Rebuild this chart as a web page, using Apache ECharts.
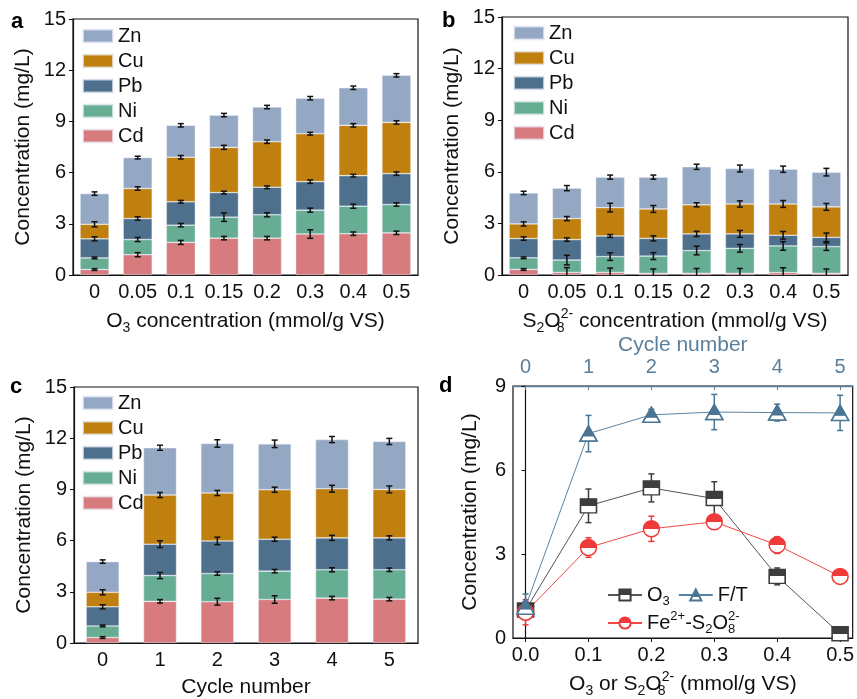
<!DOCTYPE html>
<html>
<head>
<meta charset="utf-8">
<script src="https://cdn.jsdelivr.net/npm/echarts@6/dist/echarts.min.js"></script>
<style>
html, body { margin: 0; padding: 0; background: #fff; }
#main { width: 857px; height: 699px; }
</style>
</head>
<body>
<div id="main"></div>
<script>
const FONT = 'Liberation Sans, Arial, sans-serif';

// panel a: O3 dose
const o3Doses = ['0', '0.05', '0.1', '0.15', '0.2', '0.3', '0.4', '0.5'];
const aCd = [0.32, 1.19, 1.91, 2.16, 2.16, 2.40, 2.42, 2.47];
const aNi = [0.68, 0.89, 1.01, 1.23, 1.37, 1.40, 1.61, 1.66];
const aPb = [1.12, 1.23, 1.37, 1.44, 1.61, 1.67, 1.79, 1.81];
const aCu = [0.85, 1.76, 2.61, 2.65, 2.67, 2.81, 2.95, 3.00];
const aZn = [1.80, 1.81, 1.87, 1.89, 2.03, 2.08, 2.20, 2.76];
const aCdErr = [0.05, 0.12, 0.12, 0.10, 0.10, 0.25, 0.10, 0.10];
const aNiErr = [0.05, 0.12, 0.10, 0.25, 0.12, 0.12, 0.12, 0.10];
const aPbErr = [0.12, 0.10, 0.08, 0.08, 0.08, 0.10, 0.08, 0.10];
const aCuErr = [0.15, 0.10, 0.10, 0.12, 0.10, 0.08, 0.10, 0.10];
const aZnErr = [0.10, 0.08, 0.10, 0.10, 0.10, 0.10, 0.10, 0.10];

// panel b: S2O8 dose
const s2o8Doses = ['0', '0.05', '0.1', '0.15', '0.2', '0.3', '0.4', '0.5'];
const bCd = [0.32, 0.15, 0.15, 0.10, 0.10, 0.10, 0.14, 0.10];
const bNi = [0.68, 0.72, 0.92, 1.00, 1.32, 1.45, 1.55, 1.55];
const bPb = [1.12, 1.19, 1.20, 1.03, 0.97, 0.84, 0.62, 0.54];
const bCu = [0.85, 1.22, 1.65, 1.71, 1.69, 1.74, 1.82, 1.77];
const bZn = [1.80, 1.77, 1.77, 1.85, 2.21, 2.06, 2.02, 2.02];
const bCdErr = [0.05, 0.28, 0.25, 0.25, 0.28, 0.28, 0.28, 0.25];
const bNiErr = [0.05, 0.28, 0.22, 0.20, 0.25, 0.22, 0.25, 0.22];
const bPbErr = [0.10, 0.10, 0.08, 0.15, 0.15, 0.20, 0.22, 0.25];
const bCuErr = [0.12, 0.12, 0.25, 0.20, 0.12, 0.18, 0.20, 0.20];
const bZnErr = [0.10, 0.15, 0.12, 0.12, 0.15, 0.20, 0.18, 0.22];

// panel c: freeze/thaw cycles
const cycles = ['0', '1', '2', '3', '4', '5'];
const cCd = [0.32, 2.44, 2.42, 2.55, 2.63, 2.57];
const cNi = [0.68, 1.51, 1.65, 1.66, 1.66, 1.72];
const cPb = [1.12, 1.84, 1.91, 1.87, 1.87, 1.87];
const cCu = [0.85, 2.88, 2.81, 2.90, 2.88, 2.84];
const cZn = [1.80, 2.77, 2.90, 2.69, 2.88, 2.81];
const cCdErr = [0.05, 0.10, 0.20, 0.22, 0.10, 0.10];
const cNiErr = [0.05, 0.18, 0.10, 0.10, 0.12, 0.10];
const cPbErr = [0.12, 0.20, 0.22, 0.12, 0.15, 0.12];
const cCuErr = [0.15, 0.15, 0.15, 0.15, 0.20, 0.20];
const cZnErr = [0.10, 0.15, 0.22, 0.22, 0.18, 0.18];

// panel d: Cd concentration
const dDose = [0, 0.1, 0.2, 0.3, 0.4, 0.5];
const dCycle = [0, 1, 2, 3, 4, 5];
const o3Cd = [1.00, 4.72, 5.36, 4.98, 2.20, 0.15];
const o3CdErr = [0.30, 0.60, 0.50, 0.60, 0.30, 0.12];
const ftCd = [1.12, 7.30, 7.97, 8.07, 8.05, 8.04];
const ftCdErr = [0.45, 0.65, 0.20, 0.63, 0.30, 0.63];
const feCd = [0.92, 3.23, 3.90, 4.15, 3.32, 2.20];
const feCdErr = [0.45, 0.35, 0.45, 0.15, 0.30, 0.10];

const metalNames = ['Cd', 'Ni', 'Pb', 'Cu', 'Zn'];
const metalColors = ['#d77b7e', '#67ad94', '#4e708c', '#c0800f', '#94a8c4'];
const blueAxis = '#5b7f9b';
const ftColor = '#4a7594';

const chart = echarts.init(document.getElementById('main'));

const nameRich = {
  n: { fontSize: 21, fontFamily: FONT, color: '#111', lineHeight: 28 },
  sub: { fontSize: 14, fontFamily: FONT, color: '#111', lineHeight: 14, verticalAlign: 'bottom' },
  sub8: { fontSize: 14, fontFamily: FONT, color: '#111', lineHeight: 14, verticalAlign: 'bottom', width: 0.01 },
  sup: { fontSize: 14, fontFamily: FONT, color: '#111', lineHeight: 14, verticalAlign: 'top' }
};

function errorSeries(xi, yi, points, color, z) {
  return {
    type: 'custom',
    xAxisIndex: xi,
    yAxisIndex: yi,
    z: z,
    clip: true,
    silent: true,
    data: points,
    renderItem: function (params, api) {
      const x = api.value(0), y = api.value(1), e = api.value(2);
      const hi = api.coord([x, y + e]);
      const lo = api.coord([x, y - e]);
      const w = 3;
      const st = { stroke: color, lineWidth: 1.5 };
      return {
        type: 'group',
        children: [
          { type: 'line', shape: { x1: hi[0], y1: hi[1], x2: lo[0], y2: lo[1] }, style: st },
          { type: 'line', shape: { x1: hi[0] - w, y1: hi[1], x2: hi[0] + w, y2: hi[1] }, style: st },
          { type: 'line', shape: { x1: lo[0] - w, y1: lo[1], x2: lo[0] + w, y2: lo[1] }, style: st }
        ]
      };
    }
  };
}

function stackedPanel(idx, layers, errs, barWidth) {
  const out = [];
  const running = layers[0].map(() => 0);
  layers.forEach((vals, m) => {
    out.push({
      type: 'bar',
      name: metalNames[m],
      stack: 'panel' + idx,
      xAxisIndex: idx,
      yAxisIndex: idx,
      barWidth: barWidth,
      itemStyle: { color: metalColors[m], borderColor: 'rgba(235,240,250,0.7)', borderWidth: 0.6 },
      data: vals
    });
    const pts = vals.map((v, i) => {
      running[i] += v;
      return [i, running[i], errs[m][i]];
    });
    out.push(errorSeries(idx, idx, pts, '#111', 5));
  });
  return out;
}

function barXAxis(idx, cats, name, nameGap) {
  return {
    type: 'category',
    gridIndex: idx,
    data: cats,
    name: name,
    nameLocation: 'middle',
    nameGap: nameGap,
    nameTextStyle: { rich: nameRich, fontSize: 21, fontFamily: FONT, color: '#111' },
    axisLine: { lineStyle: { color: '#111', width: 1.2 } },
    axisTick: { alignWithLabel: true, interval: 0, length: 4, lineStyle: { color: '#111' } },
    axisLabel: { interval: 0, fontSize: 20, fontFamily: FONT, color: '#111', margin: 7 }
  };
}

function concYAxis(idx, max, gap) {
  return {
    type: 'value',
    gridIndex: idx,
    min: 0,
    max: max,
    interval: 3,
    name: 'Concentration (mg/L)',
    nameLocation: 'middle',
    nameGap: gap,
    nameTextStyle: { fontSize: 21, fontFamily: FONT, color: '#111' },
    axisLine: { show: true, lineStyle: { color: '#111', width: 1.2 } },
    axisTick: { show: true, length: 4, lineStyle: { color: '#111' } },
    axisLabel: { fontSize: 20, fontFamily: FONT, color: '#111', margin: 7 },
    splitLine: { show: false }
  };
}

function barLegend(left, top) {
  return {
    data: ['Zn', 'Cu', 'Pb', 'Ni', 'Cd'],
    orient: 'vertical',
    left: left,
    top: top,
    icon: 'rect',
    itemWidth: 30,
    itemHeight: 13,
    itemGap: 5,
    selectedMode: false,
    textStyle: { fontSize: 20, fontFamily: FONT, color: '#111' }
  };
}

function halfFill(color, stop) {
  return new echarts.graphic.LinearGradient(0, 0, 0, 1, [
    { offset: 0, color: color },
    { offset: stop, color: color },
    { offset: stop, color: '#fff' },
    { offset: 1, color: '#fff' }
  ]);
}

const legendRich = {
  n: { fontSize: 20, fontFamily: FONT, color: '#111', lineHeight: 26 },
  sub: { fontSize: 13, fontFamily: FONT, color: '#111', lineHeight: 13, verticalAlign: 'bottom' },
  sub8: { fontSize: 13, fontFamily: FONT, color: '#111', lineHeight: 13, verticalAlign: 'bottom', width: 0.01 },
  sup: { fontSize: 13, fontFamily: FONT, color: '#111', lineHeight: 13, verticalAlign: 'top' }
};
const legendLabels = {
  'O3': '{n|O}{sub|3}',
  'F/T': '{n|F/T}',
  'Fe-S2O8': '{n|Fe}{sup|2+}{n|-S}{sub|2}{n|O}{sub8|8}{sup|2-}'
};

const series = []
  .concat(stackedPanel(0, [aCd, aNi, aPb, aCu, aZn], [aCdErr, aNiErr, aPbErr, aCuErr, aZnErr], 29))
  .concat(stackedPanel(1, [bCd, bNi, bPb, bCu, bZn], [bCdErr, bNiErr, bPbErr, bCuErr, bZnErr], 29))
  .concat(stackedPanel(2, [cCd, cNi, cPb, cCu, cZn], [cCdErr, cNiErr, cPbErr, cCuErr, cZnErr], 33));

series.push(errorSeries(3, 3, dDose.map((x, i) => [x, o3Cd[i], o3CdErr[i]]), '#3d3d3d', 1));
series.push(errorSeries(4, 3, dCycle.map((x, i) => [x, ftCd[i], ftCdErr[i]]), ftColor, 1));
series.push(errorSeries(3, 3, dDose.map((x, i) => [x, feCd[i], feCdErr[i]]), '#f03a3a', 1));

series.push({
  type: 'line', name: 'O3', xAxisIndex: 3, yAxisIndex: 3, z: 3,
  data: dDose.map((x, i) => [x, o3Cd[i]]),
  symbol: 'rect', symbolSize: [16, 14],
  lineStyle: { color: '#555', width: 1 },
  itemStyle: { color: halfFill('#3d3d3d', 0.5), borderColor: '#3d3d3d', borderWidth: 1.5 }
});
series.push({
  type: 'line', name: 'F/T', xAxisIndex: 4, yAxisIndex: 3, z: 3,
  data: dCycle.map((x, i) => [x, ftCd[i]]),
  symbol: 'triangle', symbolSize: [17, 15],
  lineStyle: { color: '#5a84a3', width: 1 },
  itemStyle: { color: halfFill(ftColor, 0.68), borderColor: ftColor, borderWidth: 1.5 }
});
// F/T markers: triangle, upper part filled, lower band white
series.push({
  type: 'custom', xAxisIndex: 4, yAxisIndex: 3, z: 4, silent: true,
  data: dCycle.map((x, i) => [x, ftCd[i]]),
  renderItem: function (params, api) {
    const p = api.coord([api.value(0), api.value(1)]);
    const hw = 8.5, hh = 7.5, k = 0.66;
    const top = [p[0], p[1] - hh];
    const bl = [p[0] - hw, p[1] + hh];
    const br = [p[0] + hw, p[1] + hh];
    const ys = top[1] + 2 * hh * k;
    const sl = [p[0] - hw * k, ys];
    const sr = [p[0] + hw * k, ys];
    return {
      type: 'group',
      children: [
        { type: 'polygon', shape: { points: [top, br, bl] }, style: { fill: '#fff', stroke: ftColor, lineWidth: 1.5 } },
        { type: 'polygon', shape: { points: [top, sr, sl] }, style: { fill: ftColor, stroke: ftColor, lineWidth: 1 } }
      ]
    };
  }
});
series.push({
  type: 'line', name: 'Fe-S2O8', xAxisIndex: 3, yAxisIndex: 3, z: 3,
  data: dDose.map((x, i) => [x, feCd[i]]),
  symbol: 'circle', symbolSize: 16,
  lineStyle: { color: '#f04848', width: 1 },
  itemStyle: { color: halfFill('#f03a3a', 0.5), borderColor: '#f03a3a', borderWidth: 1.5 }
});

const gridBase = { show: true, borderColor: '#111', borderWidth: 1.2, backgroundColor: 'transparent' };

const option = {
  animation: false,
  backgroundColor: '#fff',
  textStyle: { fontFamily: FONT },
  grid: [
    Object.assign({ left: 73, top: 19, width: 345, height: 256 }, gridBase),
    Object.assign({ left: 502, top: 17, width: 346, height: 258 }, gridBase),
    Object.assign({ left: 74, top: 387, width: 344, height: 256 }, gridBase),
    Object.assign({ left: 513, top: 386, width: 341, height: 253 }, gridBase)
  ],
  legend: [
    barLegend(77, 21),
    barLegend(508, 18),
    barLegend(77, 388),
    {
      data: ['O3', 'F/T'],
      left: 602, top: 580,
      itemWidth: 34, itemHeight: 14, itemGap: 8,
      selectedMode: false,
      formatter: n => legendLabels[n],
      textStyle: { fontSize: 20, fontFamily: FONT, color: '#111', rich: legendRich }
    },
    {
      data: ['Fe-S2O8'],
      left: 602, top: 605,
      itemWidth: 34, itemHeight: 14,
      selectedMode: false,
      formatter: n => legendLabels[n],
      textStyle: { fontSize: 20, fontFamily: FONT, color: '#111', rich: legendRich }
    }
  ],
  xAxis: [
    barXAxis(0, o3Doses, '{n|O}{sub|3}{n| concentration (mmol/g VS)}', 32),
    barXAxis(1, s2o8Doses, '{n|S}{sub|2}{n|O}{sub8|8}{sup|2-}{n| concentration (mmol/g VS)}', 32),
    barXAxis(2, cycles, 'Cycle number', 34),
    {
      type: 'value', gridIndex: 3, min: -0.02, max: 0.52,
      name: '{n|O}{sub|3}{n| or S}{sub|2}{n|O}{sub8|8}{sup|2-}{n| (mmol/g VS)}',
      nameLocation: 'middle', nameGap: 32,
      nameTextStyle: { rich: nameRich, fontSize: 21, fontFamily: FONT, color: '#111' },
      axisLine: { lineStyle: { color: '#111', width: 1.2 } },
      axisTick: { show: true, length: 4, customValues: dDose, lineStyle: { color: '#111' } },
      axisLabel: { fontSize: 20, fontFamily: FONT, color: '#111', margin: 7, customValues: dDose,
        formatter: v => v.toFixed(1) },
      splitLine: { show: false }
    },
    {
      type: 'value', gridIndex: 3, position: 'top', min: -0.2, max: 5.2,
      name: 'Cycle number', nameLocation: 'middle', nameGap: 27,
      nameTextStyle: { fontSize: 21, fontFamily: FONT, color: blueAxis },
      axisLine: { lineStyle: { color: blueAxis, width: 1.4 } },
      axisTick: { show: true, inside: true, length: 4, customValues: dCycle, lineStyle: { color: blueAxis } },
      axisLabel: { fontSize: 20, fontFamily: FONT, color: blueAxis, margin: 9, customValues: dCycle },
      splitLine: { show: false }
    }
  ],
  yAxis: [concYAxis(0, 15, 39), concYAxis(1, 15, 39), concYAxis(2, 15, 39), concYAxis(3, 9, 32)],
  series: series,
  graphic: [
    { type: 'text', left: 11, top: 11, style: { text: 'a', font: 'bold 22px ' + FONT, fill: '#000' } },
    { type: 'text', left: 442, top: 10, style: { text: 'b', font: 'bold 22px ' + FONT, fill: '#000' } },
    { type: 'text', left: 10, top: 376, style: { text: 'c', font: 'bold 22px ' + FONT, fill: '#000' } },
    { type: 'text', left: 439, top: 375, style: { text: 'd', font: 'bold 22px ' + FONT, fill: '#000' } }
  ]
};

chart.setOption(option);
</script>
</body>
</html>
